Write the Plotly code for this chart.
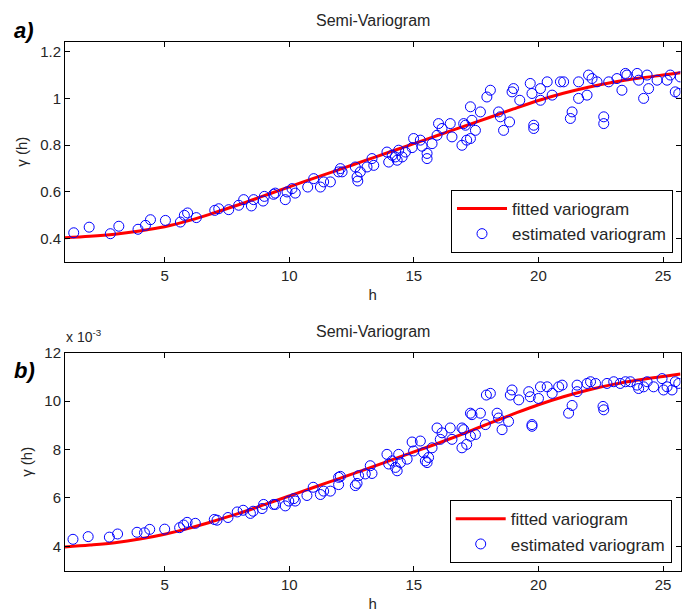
import plotly.graph_objects as go

# ---------------- data ----------------
# panel a) estimated variogram
h_a = [1.35, 1.97, 2.82, 3.16, 3.93, 4.23, 4.43, 5.03, 5.63, 5.79, 5.92, 6.27, 7.01, 7.17, 7.57, 7.97,
       8.17, 8.48, 8.57, 8.95, 9.0, 9.44,
       9.37, 9.84, 9.91, 10.11, 10.24, 10.74, 10.98, 11.25, 11.38, 11.65, 11.98, 12.05, 12.12, 12.65,
       12.72, 12.75, 12.85, 13.12, 13.39, 13.32, 13.92, 13.99, 14.13, 14.26, 14.33, 14.39, 14.53, 14.66,
       14.93, 14.99, 15.26, 15.33, 15.53, 15.53, 15.73, 15.93, 15.99, 16.13, 16.46, 16.53, 17.0, 17.07,
       17.27, 17.12, 16.93, 17.27, 17.47, 17.67, 17.93, 18.07,
       17.33, 18.4, 18.47, 18.6, 18.84, 18.94, 19.0, 19.25, 19.67, 19.74, 19.81, 19.81, 20.08, 20.08,
       20.35, 20.55, 20.88, 21.01, 21.28, 21.35, 21.61, 21.61, 21.95, 22.01, 22.15, 22.35, 22.62, 22.62,
       22.82, 23.15, 23.35, 23.49, 23.55, 23.96, 24.02, 24.22, 24.42, 24.36, 24.76, 25.16, 25.29, 25.49,
       25.63, 25.69]
g_a = [0.424, 0.448, 0.420, 0.452, 0.439, 0.456, 0.480, 0.477, 0.470, 0.499, 0.509, 0.489, 0.520, 0.527,
       0.523, 0.542, 0.566, 0.539, 0.566, 0.560, 0.580, 0.594,
       0.589, 0.566, 0.599, 0.613, 0.594, 0.620, 0.656, 0.620, 0.642, 0.642, 0.685, 0.699, 0.685, 0.706,
       0.663, 0.646, 0.685, 0.706, 0.713, 0.742, 0.770, 0.727, 0.756, 0.749, 0.735, 0.778, 0.749, 0.770,
       0.789, 0.828, 0.821, 0.795, 0.764, 0.742, 0.806, 0.842, 0.892, 0.871, 0.892, 0.835, 0.892, 0.885,
       0.964, 0.821, 0.799, 0.828, 0.863, 0.942, 1.006, 1.035,
       0.906, 0.942, 0.921, 0.863, 0.899, 1.028, 1.042, 0.992, 1.064, 1.021, 0.885, 0.871, 0.992, 1.042,
       1.071, 1.014, 1.071, 1.071, 0.914, 0.942, 1.071, 1.000, 1.014, 1.100, 1.085, 1.071, 0.921, 0.892,
       1.071, 1.085, 1.035, 1.107, 1.100, 1.107, 1.078, 1.000, 1.042, 1.100, 1.078, 1.078, 1.100, 1.028,
       1.021, 1.092]

# panel a) fitted variogram
hf_a = [1, 2, 3, 4, 5, 6, 7, 8, 9, 10, 11, 12, 13, 14, 15, 16, 17, 18, 19, 20, 21, 22, 23, 24, 25, 25.7]
gf_a = [0.403, 0.409, 0.418, 0.432, 0.450, 0.477, 0.510, 0.545, 0.583, 0.621, 0.658, 0.695, 0.732,
        0.769, 0.806, 0.843, 0.880, 0.917, 0.955, 0.991, 1.022, 1.048, 1.069, 1.086, 1.100, 1.110]

# panel b) estimated variogram (values in units of 1e-3)
h_b = [1.32, 1.93, 2.78, 3.11, 3.89, 4.19, 4.40, 5.0, 5.60, 5.76, 5.90, 6.23, 6.99, 7.10, 7.54, 7.91,
       8.15, 8.44, 8.55, 8.91, 8.97, 9.44,
       9.37, 9.84, 9.98, 10.18, 10.24, 10.71, 10.96, 11.25, 11.38, 11.65, 11.98, 12.05, 11.98, 12.65,
       12.72, 12.78, 13.05, 13.32, 13.25, 13.92, 13.99, 14.13, 14.26, 14.33, 14.39, 14.46, 14.73, 14.93,
       14.99, 15.26, 15.39, 15.46, 15.53, 15.59, 15.73, 15.93, 16.06, 16.13, 16.46, 16.53, 16.93, 17.0,
       17.27, 16.93, 17.12, 17.27, 17.47, 17.67, 17.91, 18.07,
       17.33, 17.87, 18.34, 18.40, 18.54, 18.80, 18.87, 18.94, 19.21, 19.61, 19.67, 19.74, 19.74, 20.0,
       20.08, 20.35, 20.55, 20.81, 20.95, 21.21, 21.35, 21.55, 21.55, 21.95, 22.09, 22.29, 22.59, 22.62,
       22.75, 23.02, 23.28, 23.49, 23.69, 23.96, 24.02, 24.22, 24.36, 24.62, 24.96, 25.02, 25.16, 25.36,
       25.49, 25.63]
g_b = [4.29, 4.40, 4.38, 4.51, 4.58, 4.56, 4.70, 4.71, 4.77, 4.88, 4.99, 4.95, 5.11, 5.08, 5.19, 5.42,
       5.49, 5.36, 5.45, 5.56, 5.73, 5.73,
       5.73, 5.67, 5.87, 5.97, 5.87, 6.10, 6.44, 6.14, 6.28, 6.28, 6.85, 6.89, 6.55, 6.51,
       6.60, 6.92, 6.99, 7.01, 7.33, 7.80, 7.40, 7.53, 7.26, 7.12, 7.80, 7.46, 7.60, 8.31,
       7.94, 8.35, 7.87, 7.53, 7.46, 7.67, 8.07, 8.89, 8.42, 8.69, 8.89, 8.42, 8.89, 8.82,
       9.50, 8.07, 8.21, 8.55, 8.62, 9.50, 10.25, 10.32,
       9.44, 9.03, 9.50, 9.30, 8.82, 9.16, 10.25, 10.46, 10.05, 10.39, 10.18, 9.03, 8.96, 10.11,
       10.59, 10.59, 10.32, 10.59, 10.66, 9.50, 9.82, 10.66, 10.39, 10.73, 10.80, 10.73, 9.78, 9.64,
       10.73, 10.80, 10.73, 10.80, 10.80, 10.66, 10.52, 10.59, 10.80, 10.59, 10.93, 10.46, 10.59, 10.46,
       10.80, 10.73]

# panel b) fitted variogram (units of 1e-3)
hf_b = [1, 2, 3, 4, 5, 6, 7, 8, 9, 10, 11, 12, 13, 14, 15, 16, 17, 18, 19, 20, 21, 22, 23, 24, 25, 25.7]
gf_b = [3.97, 4.05, 4.15, 4.30, 4.50, 4.75, 5.05, 5.37, 5.72, 6.08, 6.44, 6.80, 7.16, 7.53, 7.90,
        8.27, 8.66, 9.07, 9.47, 9.85, 10.18, 10.46, 10.69, 10.87, 11.02, 11.12]

x_ticks = [5, 10, 15, 20, 25]
ya_ticks = [0.4, 0.6, 0.8, 1.0, 1.2]
ya_text = ["0.4", "0.6", "0.8", "1", "1.2"]
yb_ticks = [4, 6, 8, 10, 12]
yb_text = ["4", "6", "8", "10", "12"]

# ---------------- figure ----------------
W, H = 682, 614
FONT = "Liberation Sans, Arial, sans-serif"
TXT = "#262626"


def fx(px):
    return px / W


def fy(py):
    return 1 - py / H


fig = go.Figure()

fig.add_trace(go.Scatter(x=hf_a, y=gf_a, mode="lines", line=dict(color="#ff0000", width=3, shape="spline"),
                         name="fitted variogram", xaxis="x", yaxis="y", legend="legend"))
fig.add_trace(go.Scatter(x=h_a, y=g_a, mode="markers",
                         marker=dict(symbol="circle-open", size=10, color="#0000ff", line=dict(width=1)),
                         name="estimated variogram", xaxis="x", yaxis="y", legend="legend"))
fig.add_trace(go.Scatter(x=hf_b, y=gf_b, mode="lines", line=dict(color="#ff0000", width=3, shape="spline"),
                         name="fitted variogram", xaxis="x2", yaxis="y2", legend="legend2"))
fig.add_trace(go.Scatter(x=h_b, y=g_b, mode="markers",
                         marker=dict(symbol="circle-open", size=10, color="#0000ff", line=dict(width=1)),
                         name="estimated variogram", xaxis="x2", yaxis="y2", legend="legend2"))

axis_common = dict(showline=True, linecolor="#000000", linewidth=1, mirror="allticks", ticks="inside",
                   ticklen=5, tickcolor="#000000", showgrid=False, zeroline=False, automargin=False,
                   tickfont=dict(family=FONT, size=15, color=TXT))

xdom = [fx(65), fx(680.5)]
title_font = dict(family=FONT, size=15, color=TXT)

fig.update_layout(
    width=W, height=H,
    margin=dict(l=0, r=0, t=0, b=0, pad=0),
    paper_bgcolor="white", plot_bgcolor="white",
    font=dict(family=FONT, color=TXT),
    xaxis=dict(domain=xdom, range=[1, 25.7], tickvals=x_ticks, anchor="y",
               title=dict(text="h", font=title_font, standoff=6), **axis_common),
    yaxis=dict(domain=[fy(261.7), fy(41.7)], range=[0.3, 1.243], tickvals=ya_ticks, ticktext=ya_text,
               anchor="x", title=dict(text="γ (h)", font=title_font, standoff=8),
               **axis_common),
    xaxis2=dict(domain=xdom, range=[1, 25.7], tickvals=x_ticks, anchor="y2",
                title=dict(text="h", font=title_font, standoff=6), **axis_common),
    yaxis2=dict(domain=[fy(571), fy(352.7)], range=[2.98, 12], tickvals=yb_ticks, ticktext=yb_text,
                anchor="x2", title=dict(text="γ (h)", font=title_font, standoff=8),
                **axis_common),
    legend=dict(x=fx(673), y=fy(253), xanchor="right", yanchor="bottom", bgcolor="white",
                bordercolor="#000000", borderwidth=1, font=dict(family=FONT, size=17, color=TXT),
                tracegroupgap=0, itemwidth=50),
    legend2=dict(x=fx(671.7), y=fy(563.3), xanchor="right", yanchor="bottom", bgcolor="white",
                 bordercolor="#000000", borderwidth=1, font=dict(family=FONT, size=17, color=TXT),
                 tracegroupgap=0, itemwidth=50),
    showlegend=True,
)

annots = [
    dict(text="Semi-Variogram", x=fx(373), y=fy(20), font=dict(size=16)),
    dict(text="Semi-Variogram", x=fx(373), y=fy(331), font=dict(size=16)),
    dict(text="<b><i>a)</i></b>", x=fx(24), y=fy(30), font=dict(size=22, color="#000")),
    dict(text="<b><i>b)</i></b>", x=fx(24), y=fy(370), font=dict(size=22, color="#000")),
    dict(text="x 10<sup>-3</sup>", x=fx(64), y=fy(336), xanchor="left", font=dict(size=14)),
]
for a in annots:
    base = dict(xref="paper", yref="paper", showarrow=False, xanchor="center", yanchor="middle")
    base.update(a)
    f = dict(family=FONT, color=TXT)
    f.update(a.get("font", {}))
    base["font"] = f
    fig.add_annotation(**base)

fig.write_html("out.html", config={"displayModeBar": False},
               post_script="document.body.style.margin='0px';")
